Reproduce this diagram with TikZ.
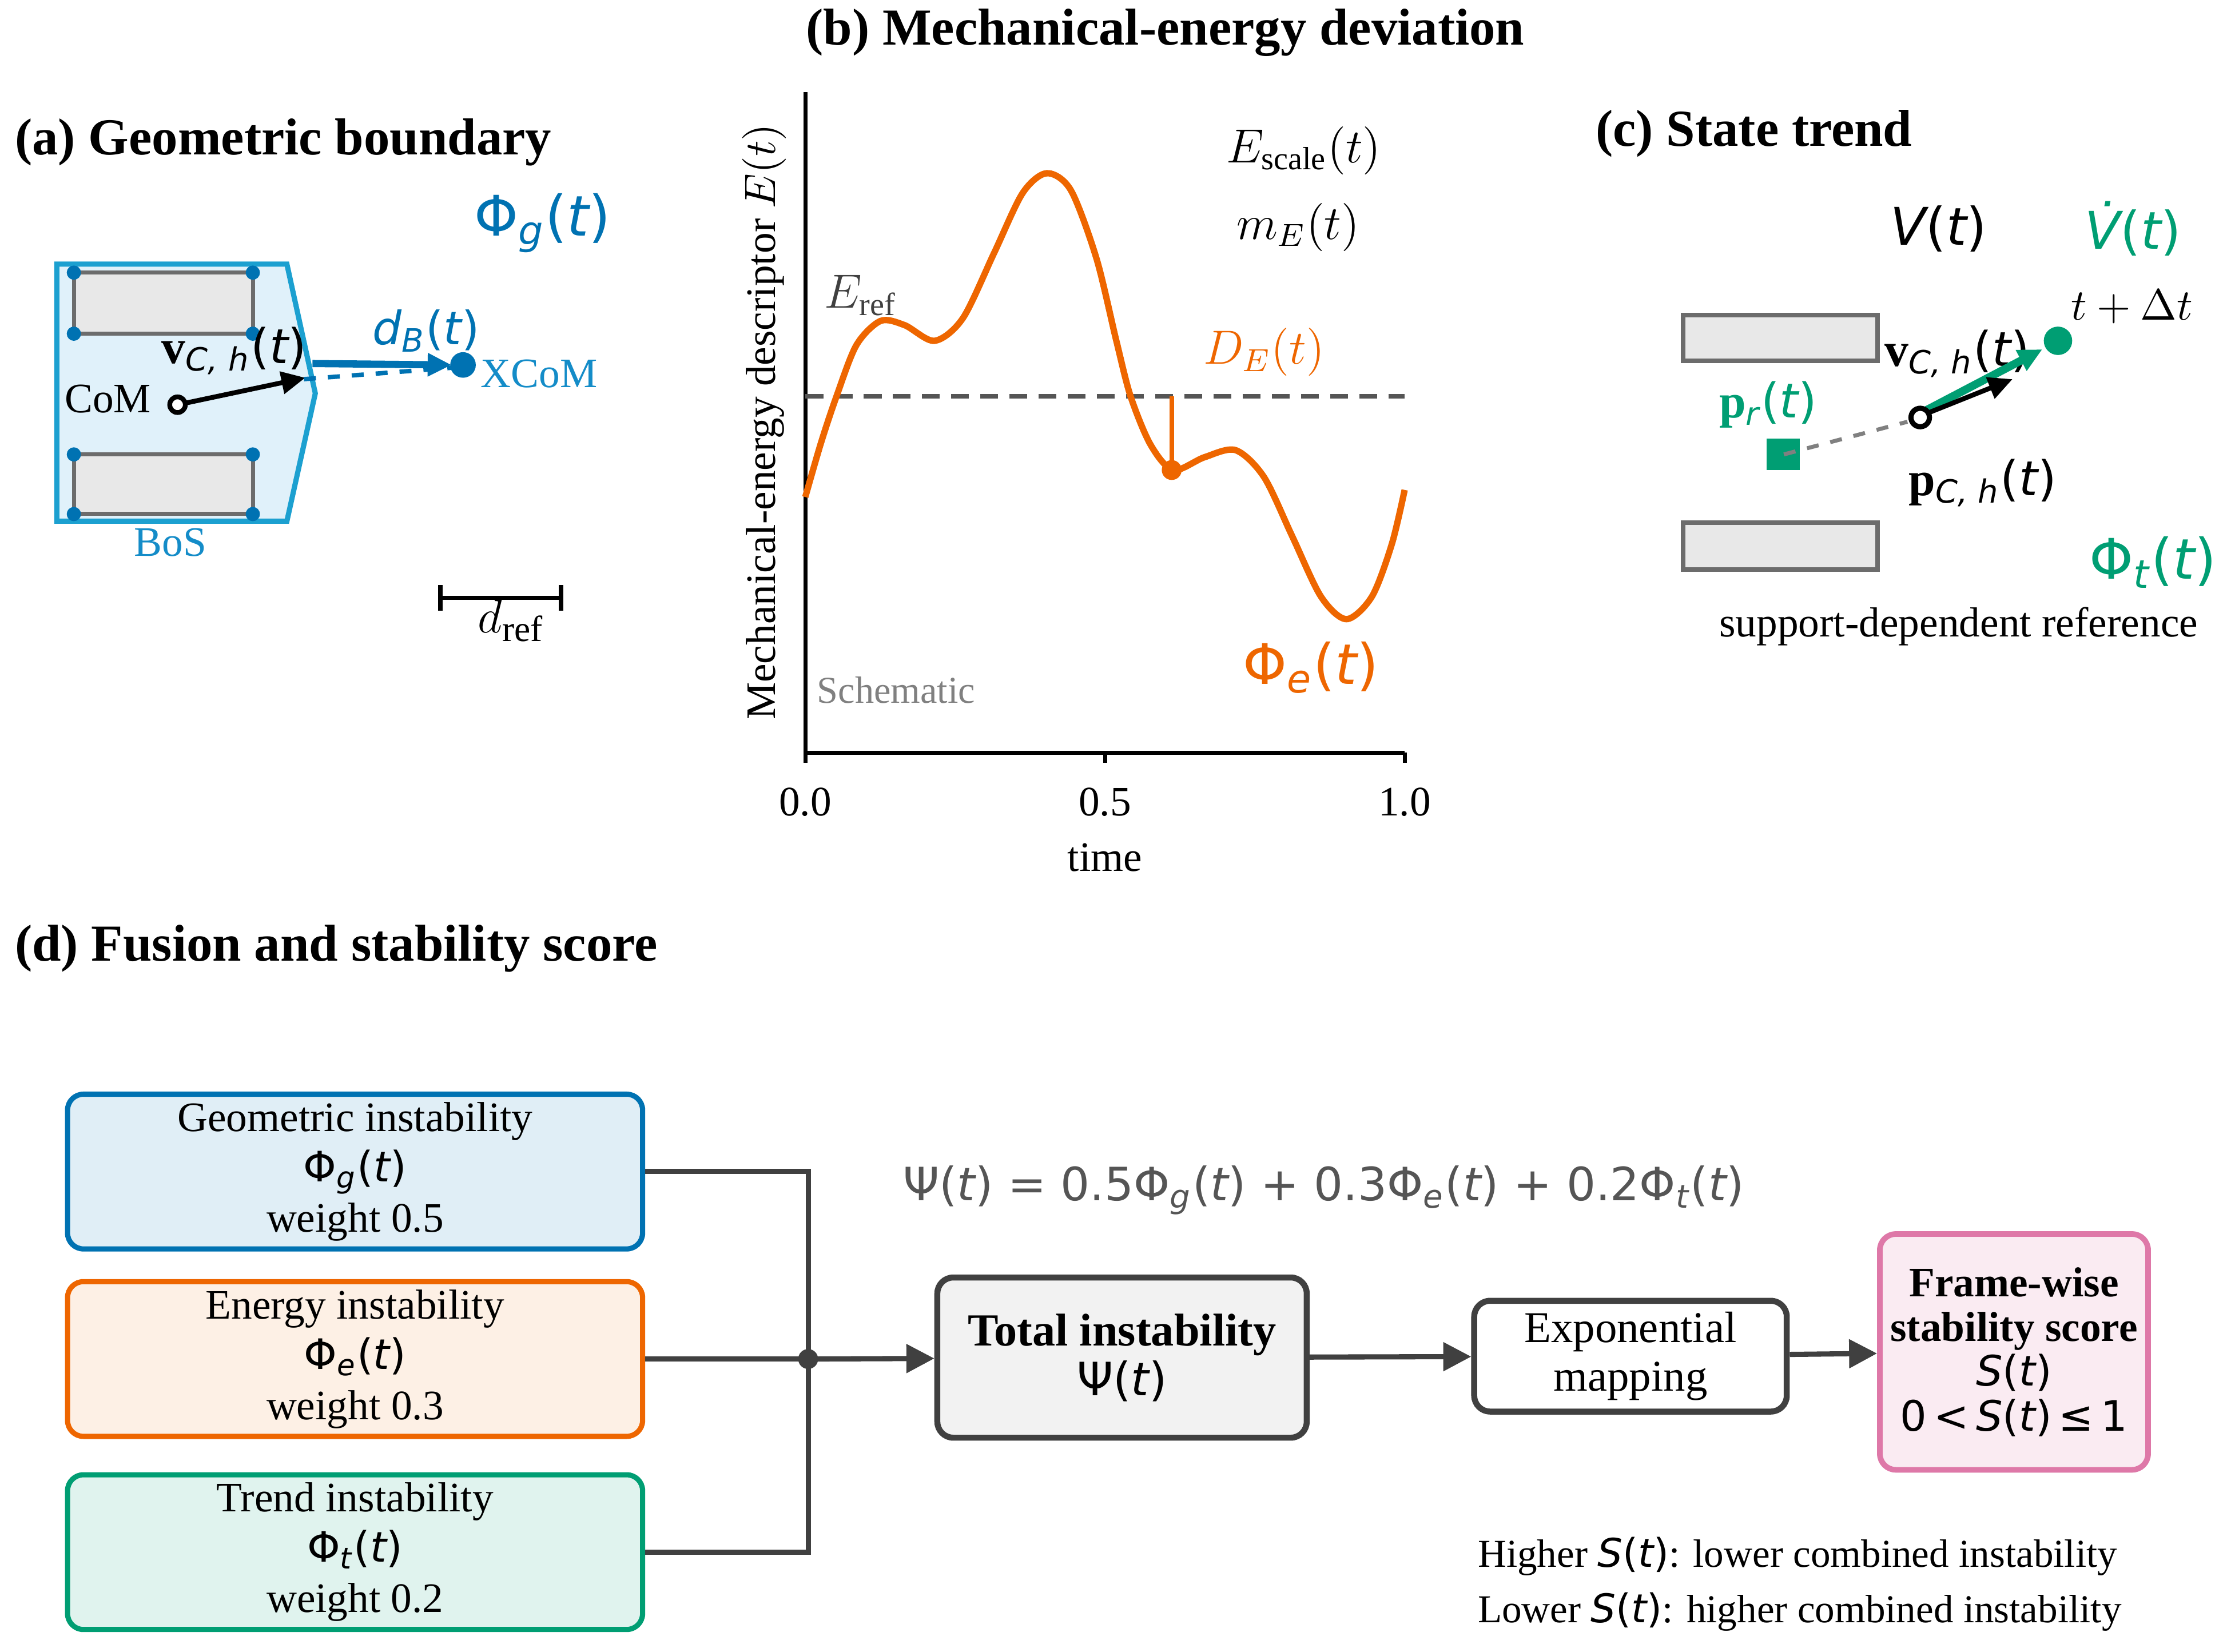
\documentclass[tikz,border=0pt]{standalone}
\usepackage{fontspec}
\setmainfont{Liberation Serif}
\newfontfamily\dvfont{DejaVu Sans}
\usetikzlibrary{arrows.meta}

\definecolor{bosline}{RGB}{28,160,208}
\definecolor{bosfill}{RGB}{224,241,250}
\definecolor{bostext}{RGB}{20,140,200}
\definecolor{cblue}{RGB}{0,114,178}
\definecolor{corange}{RGB}{238,102,0}
\definecolor{cgreen}{RGB}{0,158,115}
\definecolor{cpink}{RGB}{222,120,168}
\definecolor{dgray}{RGB}{64,64,64}
\definecolor{mgray}{RGB}{85,85,85}
\definecolor{footgray}{RGB}{232,232,232}

% DejaVu pieces for the matplotlib-like formulas
\newcommand{\dv}[1]{{\dvfont #1}}
\newcommand{\dvi}[1]{{\dvfont\itshape #1}}
\newcommand{\dvsb}[1]{\textsubscript{\dvfont\itshape #1}}
\newcommand{\dvt}{\dv{(\dvi{t})}}

\begin{document}
\begin{tikzpicture}[x=0.0125cm, y=-0.0125cm, >={Triangle[length=6pt,width=5.5pt]},
    every node/.style={font=\fontsize{10.5}{12.6}\selectfont},
    ttl/.style={anchor=west, inner sep=0pt, font=\fontsize{13}{15}\selectfont\bfseries},
    big/.style={font=\fontsize{14}{16}\selectfont},
    mth/.style={font=\fontsize{11.5}{13.8}\selectfont},
    foot/.style={fill=footgray, draw=gray!85!black, line width=1pt},
    conn/.style={draw=dgray, line width=1.3pt},
    flow/.style={conn, -{Triangle[length=7pt,width=7pt]}},
    box/.style={draw, rounded corners=4pt, line width=1.3pt, align=center, inner sep=2pt}]
    \useasboundingbox[fill=white] (0,0) rectangle (1568,1163);

    % (a) geometric boundary
    \node[ttl] at (10,100) {(a) Geometric boundary};
    \filldraw[fill=bosfill, draw=bosline, line width=1.3pt]
    (40,186) -- (202,186) -- (222,277) -- (202,367) -- (40,367) -- cycle;
    \filldraw[foot] (52,192) rectangle (178,235);
    \filldraw[foot] (52,320) rectangle (178,362);
    \foreach \x in {52,178}
        \foreach \y in {192,235,320,362}
            \fill[cblue] (\x,\y) circle (5);
    \node at (76,281) {CoM};
    \node[font=\fontsize{12}{14}\selectfont] at (165,247) {\textbf{v}\dvsb{C, h}\dvt};
    \draw[->, line width=1.2pt] (130,284) -- (215,266);
    \draw[line width=1.2pt, fill=white] (125,285) circle (5.5);
    \draw[->, cblue, line width=1.8pt] (220,256) -- (318,257);
    \draw[cblue, dashed, line width=1.1pt] (214,267) -- (318,259);
    \fill[cblue] (326,257) circle (9);
    \node[cblue, mth] at (300,233) {\dvi{d}\dvsb{B}\dvt};
    \node[anchor=west, inner sep=0pt, text=bostext] at (338,263) {XCoM};
    \node[text=bostext] at (120,382) {BoS};
    \node[cblue, big] at (382,157) {\dv{Φ\dvsb{g}}\dvt};
    \draw[line width=1.1pt] (310,412) -- (310,430) (310,421) -- (395,421) (395,412) -- (395,430);
    \node[font=\fontsize{13}{15}\selectfont] at (360,437) {$d_{\mathrm{ref}}$};

    % (b) energy curve
    \node[ttl] at (567,23) {(b) Mechanical-energy deviation};
    \draw[line width=1pt] (567,65) -- (567,530) -- (989,530);
    \foreach \x/\lab in {567/0.0, 778/0.5, 989/1.0}
        \draw[line width=1pt] (\x,530) -- (\x,537) node[below, yshift=-2.5pt] {\lab};
    \node at (778,604) {time};
    \node[rotate=90] at (538,297) {Mechanical-energy descriptor $E(t)$};
    \draw[mgray, dash pattern=on 4.5pt off 2.8pt, line width=1.1pt] (567,279) -- (989,279);
    \draw[corange, line width=1.6pt] plot[smooth] coordinates {
        (567,350) (578,312) (589,279) (603,243) (620,226) (637,229) (658,240)
        (678,224) (700,178) (720,136) (737,122) (754,134) (772,182) (786,240)
        (796,279) (810,313) (826,331) (848,322) (870,317) (890,336) (910,378)
        (930,420) (948,436) (966,420) (980,383) (989,345)};
    \draw[corange, line width=1.2pt] (825,279) -- (825,331);
    \fill[corange] (825,331) circle (7);
    \node[mth, text=dgray] at (606,208) {$E_{\mathrm{ref}}$};
    \node[mth, text=corange] at (890,248) {$D_E(t)$};
    \node[mth] at (918,106) {$E_{\mathrm{scale}}(t)$};
    \node[mth] at (914,160) {$m_E(t)$};
    \node[big, text=corange] at (923,470) {\dv{Φ\dvsb{e}}\dvt};
    \node[font=\fontsize{9.5}{11}\selectfont, text=gray] at (631,486) {Schematic};

    % (c) state trend
    \node[ttl] at (1123,94) {(c) State trend};
    \filldraw[foot, line width=1.2pt] (1185,222) rectangle (1322,254);
    \filldraw[foot, line width=1.2pt] (1185,368) rectangle (1322,401);
    \node[font=\fontsize{13}{15}\selectfont] at (1365,161) {\dvi{V}\dvt};
    \node[font=\fontsize{13}{15}\selectfont, text=cgreen] at (1502,161) {\dvi{V̇}\dvt};
    \node[font=\fontsize{11}{13}\selectfont] at (1501,216) {$t+\Delta t$};
    \node[font=\fontsize{12}{14}\selectfont] at (1378,249) {\textbf{v}\dvsb{C, h}\dvt};
    \node[font=\fontsize{12}{14}\selectfont, text=cgreen] at (1245,285) {\textbf{p}\dvsb{r}\dvt};
    \node[font=\fontsize{12}{14}\selectfont] at (1396,340) {\textbf{p}\dvsb{C, h}\dvt};
    \fill[cgreen] (1244,309) rectangle (1267,331);
    \draw[gray, dashed, line width=1pt] (1256,320) -- (1343,297);
    \fill[cgreen] (1449,240) circle (10);
    \draw[->, cgreen, line width=2pt] (1356,289) -- (1438,246);
    \draw[->, line width=1.2pt] (1357,291) -- (1417,267);
    \draw[line width=1.3pt, fill=white] (1352,294) circle (6.5);
    \node[big, text=cgreen] at (1516,396) {\dv{Φ\dvsb{t}}\dvt};
    \node at (1379,441) {support-dependent reference};

    % (d) fusion
    \node[ttl] at (10,668) {(d) Fusion and stability score};
    \node[box, draw=cblue, fill=cblue!12, minimum width=5.06cm, minimum height=1.35cm] (geo) at (250,825)
        {Geometric instability\\ \dv{Φ\dvsb{g}}\dvt\\ weight 0.5};
    \node[box, draw=corange, fill=corange!10, minimum width=5.06cm, minimum height=1.34cm] (nrg) at (250,957)
        {Energy instability\\ \dv{Φ\dvsb{e}}\dvt\\ weight 0.3};
    \node[box, draw=cgreen, fill=cgreen!12, minimum width=5.06cm, minimum height=1.34cm] (trend) at (250,1093)
        {Trend instability\\ \dv{Φ\dvsb{t}}\dvt\\ weight 0.2};
    \node[box, draw=dgray, fill=black!5, line width=1.5pt, minimum width=3.25cm, minimum height=1.41cm,
        font=\fontsize{11.5}{12.5}\selectfont] (total) at (790,956)
        {\textbf{Total instability}\\ \dv{Ψ(\dvi{t})}};
    \node[box, draw=dgray, fill=white, line width=1.5pt, minimum width=2.75cm, minimum height=0.975cm,
        font=\fontsize{11}{12.2}\selectfont] (expo) at (1148,955)
        {Exponential\\ mapping};
    \node[box, draw=cpink, fill=cpink!15, line width=1.4pt, minimum width=2.36cm, minimum height=2.075cm,
        font=\fontsize{10.5}{11.2}\selectfont] (score) at (1418,952)
        {\textbf{Frame-wise}\\ \textbf{stability score}\\ \dvi{S}\dvt\\ \dv{0\,<\,\dvi{S}(\dvi{t})\,≤\,1}};
    \node[font=\fontsize{11.5}{13.8}\selectfont, text=mgray] (psi) at (932,838)
        {\dv{Ψ(\dvi{t}) = 0.5Φ\dvsb{g}(\dvi{t}) + 0.3Φ\dvsb{e}(\dvi{t}) + 0.2Φ\dvsb{t}(\dvi{t})}};
    \coordinate (jn) at (569,957);
    \draw[conn] (geo.east) -| (jn) (trend.east) -| (jn) (nrg.east) -- (jn);
    \fill[dgray] (jn) circle (7);
    \draw[flow] (jn) -- (total);
    \draw[flow] (total) -- (expo);
    \draw[flow] (expo) -- (score);
    \node[anchor=west, inner sep=0pt, font=\fontsize{9.9}{12}\selectfont] (hi) at (1040,1096)
        {Higher \dvi{S}\dvt: lower combined instability};
    \node[anchor=west, inner sep=0pt, font=\fontsize{9.9}{12}\selectfont] (lo) at (1040,1135)
        {Lower \dvi{S}\dvt: higher combined instability};
\end{tikzpicture}
\end{document}
